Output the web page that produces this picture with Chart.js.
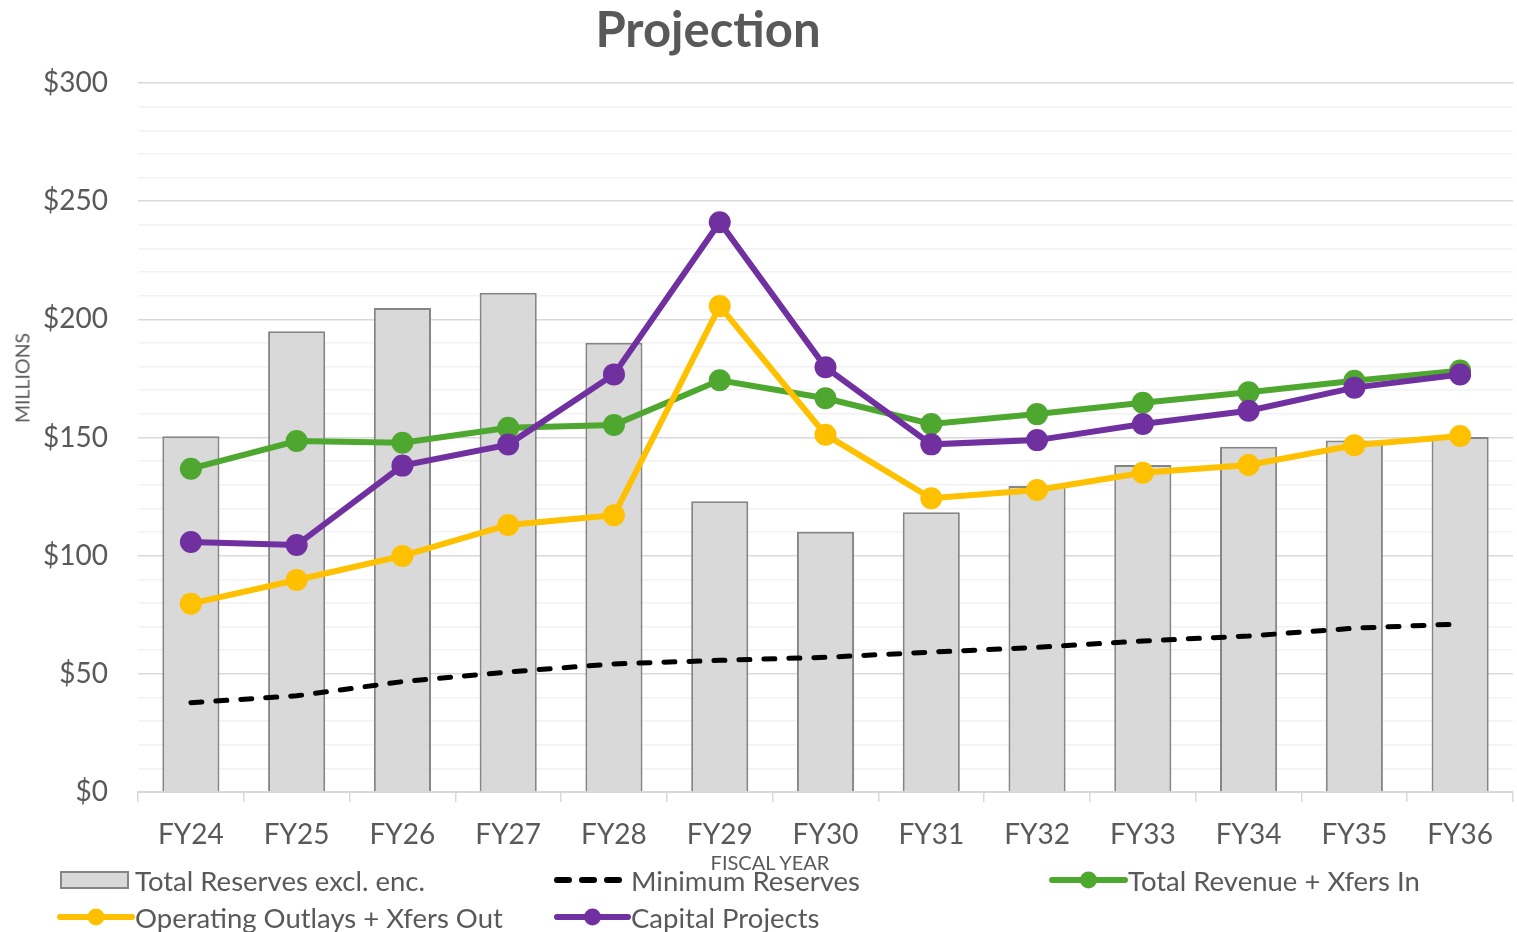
<!DOCTYPE html>
<html><head><meta charset="utf-8">
<script src="https://cdn.jsdelivr.net/npm/chart.js@4.4.1/dist/chart.umd.min.js"></script>
<style>
html,body{margin:0;padding:0;background:#fff;overflow:hidden;}
#wrap{position:relative;width:1517px;height:932px;overflow:hidden;font-family:Lato,"Open Sans",sans-serif;color:#595959;}
#c{position:absolute;left:0;top:0;}
.title{position:absolute;left:408px;width:600px;top:0;text-align:center;font-size:49px;font-weight:bold;line-height:56px;}
.ytitle{position:absolute;left:22px;top:378px;transform:translate(-50%,-50%) rotate(-90deg);font-size:19.5px;white-space:nowrap;}
.xtitle{position:absolute;left:770px;top:862px;transform:translate(-50%,-50%);font-size:20px;white-space:nowrap;}
.lg{position:absolute;display:flex;align-items:center;font-size:27.5px;white-space:nowrap;height:36px;}
.lg svg{display:block;margin-right:0px;}
</style></head>
<body><div id="wrap">
<canvas id="c" width="1524" height="932"></canvas>
<div class="title">Projection</div>
<div class="ytitle">MILLIONS</div>
<div class="xtitle">FISCAL YEAR</div>
<div id="legend"></div>
</div>
<script>
const categories = ['FY24','FY25','FY26','FY27','FY28','FY29','FY30','FY31','FY32','FY33','FY34','FY35','FY36'];
const totalReserves = [150.5,195,204.8,211.3,190.1,123,110.1,118.4,129.5,138.4,146.1,148.7,150.2];
const minimumReserves = [37.8,40.7,46.7,50.8,54.2,55.7,57,59.2,61.2,63.9,66,69.3,71.1];
const totalRevenue = [136.8,148.5,147.8,154.1,155.3,174.2,166.6,155.7,159.9,164.7,169.1,174,178.3];
const operatingOutlays = [79.7,89.7,99.9,113,117.1,205.6,151.2,124.3,127.8,135.1,138.4,146.7,150.6];
const capitalProjects = [105.8,104.5,138.1,147,176.7,241.1,179.7,147.1,148.9,155.7,161.3,171.1,176.7];
const seriesNames = ['Total Reserves excl. enc.','Minimum Reserves','Total Revenue + Xfers In','Operating Outlays + Xfers Out','Capital Projects'];
const yMin = 0, yMax = 300, yStep = 10, yLabelStep = 50;

const GREEN='#4ea72e', YELLOW='#ffc000', PURPLE='#7030a0';

function lineDs(label, data, color, order){
  return {type:'line', label, data, borderColor:color, backgroundColor:color, borderWidth:6,
    pointRadius:11, pointHoverRadius:11, pointBorderWidth:0, pointBackgroundColor:color,
    tension:0, fill:false, order};
}

new Chart(document.getElementById('c'), {
  type:'bar',
  data:{
    labels:categories,
    datasets:[
      {type:'bar', label:seriesNames[0], data:totalReserves, backgroundColor:'#d9d9d9', borderColor:'#858585',
       borderWidth:2, barPercentage:0.54, categoryPercentage:1, order:5},
      {type:'line', label:seriesNames[1], data:minimumReserves, borderColor:'#000', borderWidth:5,
       borderDash:[11,14], borderCapStyle:'round', pointRadius:0, tension:0, fill:false, order:4},
      lineDs(seriesNames[2], totalRevenue, GREEN, 3),
      lineDs(seriesNames[3], operatingOutlays, YELLOW, 2),
      lineDs(seriesNames[4], capitalProjects, PURPLE, 1)
    ]
  },
  options:{
    responsive:false, animation:false, events:[],
    layout:{padding:{left:0,right:5,top:83,bottom:0}},
    plugins:{legend:{display:false}, title:{display:false}, tooltip:{enabled:false}},
    scales:{
      x:{
        offset:true,
        grid:{offset:true, drawOnChartArea:false, drawTicks:true, tickLength:10, color:'#d9d9d9', lineWidth:1.5},
        border:{display:true, color:'#d9d9d9', width:2},
        ticks:{font:{family:'Lato', size:28}, color:'#595959', padding:16, maxRotation:0, autoSkip:false},
        afterFit(s){ s.height = 140; s.paddingLeft = 0; s.paddingRight = 0; }
      },
      y:{
        min:yMin, max:yMax,
        grid:{drawTicks:false, lineWidth:1.5,
          color:(ctx)=> (ctx.tick && ctx.tick.value % yLabelStep === 0) ? '#d9d9d9' : '#f2f2f2'},
        border:{display:false},
        ticks:{stepSize:yStep, autoSkip:false, maxTicksLimit:100, padding:30,
          font:{family:'Lato', size:28}, color:'#595959',
          callback:(v)=> v % yLabelStep === 0 ? '$' + v : ''},
        afterFit(s){ s.width = 138; }
      }
    }
  }
});

// HTML legend
const legendItems = [
  {name:seriesNames[0], kind:'bar', x:60, y:880, w:67},
  {name:seriesNames[1], kind:'dash', x:554, y:880, w:74},
  {name:seriesNames[2], kind:'line', color:GREEN, x:1049, y:880, w:76},
  {name:seriesNames[3], kind:'line', color:YELLOW, x:57, y:917, w:75},
  {name:seriesNames[4], kind:'line', color:PURPLE, x:554, y:917, w:74}
];
const lg = document.getElementById('legend');
legendItems.forEach(it=>{
  const d = document.createElement('div');
  d.className='lg';
  d.style.left = it.x + 'px';
  d.style.top = (it.y - 18) + 'px';
  let svg;
  const w = it.w;
  if(it.kind==='bar'){
    svg = `<svg width="${w+8}" height="20"><rect x="1" y="2" width="${w}" height="16" fill="#d9d9d9" stroke="#858585" stroke-width="2"/></svg>`;
  } else if(it.kind==='dash'){
    svg = `<svg width="${w+3}" height="20"><line x1="3" y1="10" x2="${w}" y2="10" stroke="#000" stroke-width="6" stroke-linecap="round" stroke-dasharray="12 13"/></svg>`;
  } else {
    svg = `<svg width="${w+3}" height="20"><line x1="3" y1="10" x2="${w}" y2="10" stroke="${it.color}" stroke-width="6" stroke-linecap="round"/><circle cx="${(w+3)/2}" cy="10" r="8.5" fill="${it.color}"/></svg>`;
  }
  d.innerHTML = svg + '<span>' + it.name + '</span>';
  lg.appendChild(d);
});
</script>
</body></html>
